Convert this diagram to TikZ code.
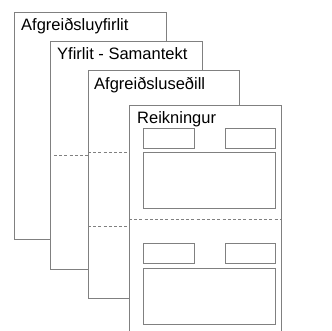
\documentclass[tikz,border=0pt]{standalone}
\usepackage{fontspec}
\setmainfont{Liberation Sans}
\definecolor{edge}{rgb}{0.5,0.5,0.5}
\begin{document}
\begin{tikzpicture}[x=1pt,y=-1pt,
  page/.style={draw=edge,fill=white,line width=1pt,inner sep=0pt,outer sep=0pt,anchor=north west},
  field/.style={draw=edge,line width=1pt,inner sep=0pt,outer sep=0pt,anchor=north west},
  fold/.style={draw=edge,line width=0.8pt,dash pattern=on 3pt off 2.2pt},
  title/.style={anchor=base west,inner sep=0pt,font=\fontsize{16.5}{19}\selectfont}]
\useasboundingbox (0,0) rectangle (332,331);
\clip (0,0) rectangle (332,331);
% page 1
\node[page,minimum width=152pt,minimum height=227pt] (p1) at (14,13) {};
\node[title] (t1) at (21,31) {Afgreiðsluyfirlit};
% page 2
\node[page,minimum width=152pt,minimum height=227pt] (p2) at (50,42) {};
\node[title] (t2) at (57,60) {Yfirlit - Samantekt};
\draw[fold] (54,155) -- (88,155);
% page 3
\node[page,minimum width=151pt,minimum height=227pt] (p3) at (88,71) {};
\node[title] (t3) at (94,90) {Afgreiðsluseðill};
\draw[fold] (88,152) -- (129,152);
\draw[fold] (88,226) -- (129,226);
% page 4
\node[page,minimum width=152pt,minimum height=240pt] (p4) at (129,106) {};
\node[title] (t4) at (137,124) {Reikningur};
\node[field,minimum width=51pt,minimum height=20pt] (a1) at (143,129) {};
\node[field,minimum width=50pt,minimum height=20pt] (b1) at (225,129) {};
\node[field,minimum width=132pt,minimum height=56pt] (c1) at (143,153) {};
\draw[fold] (129,219) -- (281,219);
\node[field,minimum width=51pt,minimum height=19pt] (a2) at (143,244) {};
\node[field,minimum width=50pt,minimum height=19pt] (b2) at (225,244) {};
\node[field,minimum width=132pt,minimum height=56pt] (c2) at (143,268) {};
\end{tikzpicture}
\end{document}
